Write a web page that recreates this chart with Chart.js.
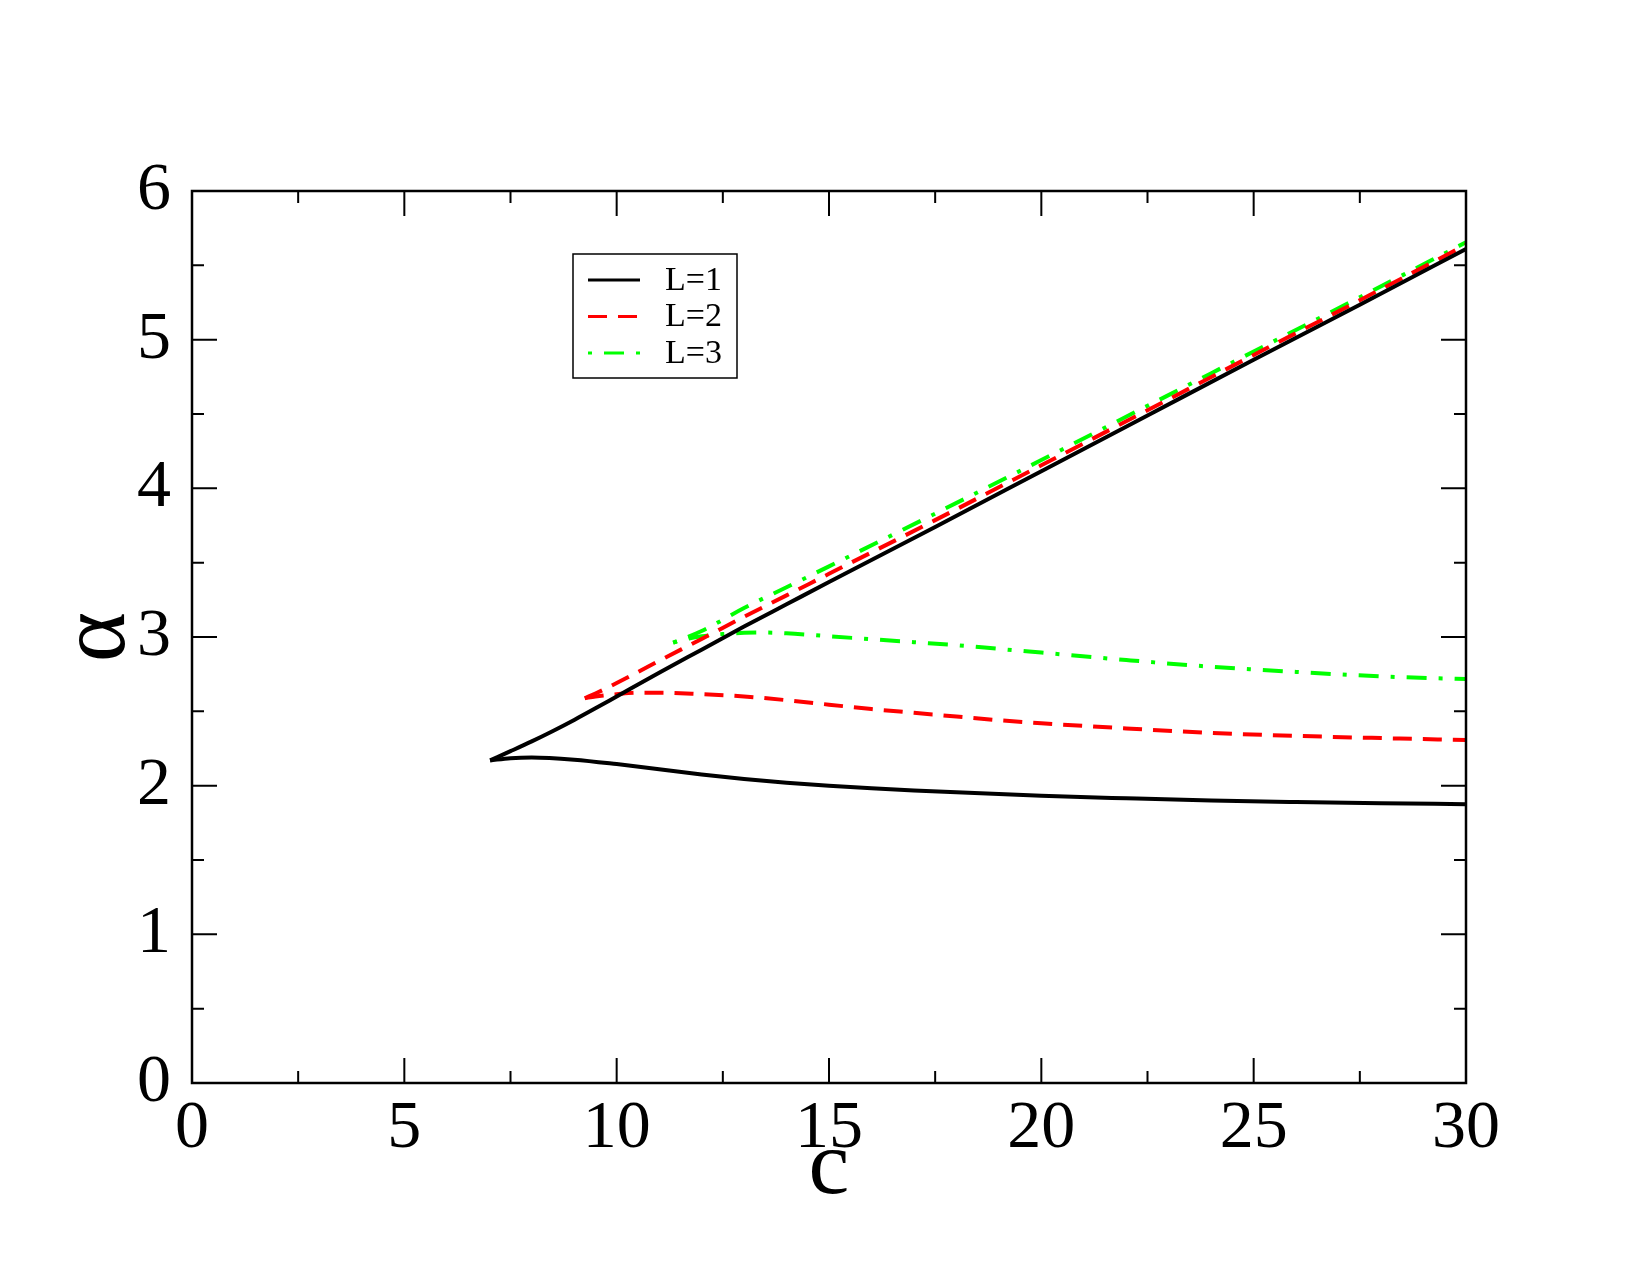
<!DOCTYPE html>
<html>
<head>
<meta charset="utf-8">
<script src="https://cdn.jsdelivr.net/npm/chart.js@4.4.0/dist/chart.umd.min.js"></script>
<style>
  html, body { margin: 0; padding: 0; background: #fff; }
  #wrap { width: 1650px; height: 1275px; position: relative; }
</style>
</head>
<body>
<div id="wrap"><canvas id="myChart"></canvas></div>
<script>
// data: c on x, alpha on y
// each L has an upper and a lower branch meeting at a cusp
const seriesLabels = ['L=1', 'L=2', 'L=3'];

const l1UpperC = [7.02, 7.5, 8, 8.5, 9, 9.5, 10, 11, 12, 13, 14, 15, 17.5, 20, 22.5, 25, 27.5, 30];
const l1UpperA = [2.17, 2.232, 2.298, 2.368, 2.442, 2.52, 2.60, 2.76, 2.915, 3.07, 3.22, 3.37, 3.74, 4.115, 4.49, 4.865, 5.235, 5.61];
const l1LowerC = [7.02, 7.5, 8, 9, 10, 11, 12, 13, 14, 15, 16, 17, 18, 20, 22, 24, 26, 28, 30];
const l1LowerA = [2.17, 2.185, 2.19, 2.175, 2.145, 2.11, 2.075, 2.045, 2.02, 2.0, 1.983, 1.968, 1.955, 1.932, 1.915, 1.90, 1.89, 1.882, 1.875];

const l2UpperC = [9.25, 9.5, 10, 11, 12, 13, 14, 15, 17.5, 20, 22.5, 25, 27.5, 30];
const l2UpperA = [2.588, 2.62, 2.69, 2.84, 2.987, 3.136, 3.28, 3.425, 3.786, 4.155, 4.525, 4.897, 5.265, 5.638];
const l2LowerC = [9.25, 9.5, 10, 10.5, 11, 12, 13, 14, 15, 16, 17, 18, 19, 20, 22, 24, 26, 28, 30];
const l2LowerA = [2.588, 2.60, 2.615, 2.625, 2.625, 2.615, 2.60, 2.575, 2.545, 2.515, 2.49, 2.465, 2.44, 2.42, 2.385, 2.355, 2.335, 2.32, 2.307];

const l3UpperC = [11.33, 12, 13, 14, 15, 17.5, 20, 22.5, 25, 27.5, 30];
const l3UpperA = [2.962, 3.04, 3.195, 3.335, 3.475, 3.83, 4.19, 4.555, 4.92, 5.285, 5.655];
const l3LowerC = [11.33, 11.7, 12, 12.5, 13, 13.5, 14, 15, 16, 17, 18, 19, 20, 22, 24, 26, 28, 30];
const l3LowerA = [2.962, 2.99, 3.005, 3.02, 3.028, 3.03, 3.025, 3.005, 2.985, 2.965, 2.945, 2.92, 2.895, 2.845, 2.80, 2.765, 2.735, 2.717];

const xTicks = [0, 5, 10, 15, 20, 25, 30];
const yTicks = [0, 1, 2, 3, 4, 5, 6];

function toPoints(cs, as) {
  return cs.map((c, i) => ({x: c, y: as[i]}));
}

const serif = '"Liberation Serif", "Times New Roman", serif';

const styles = [
  { color: '#000000', dash: [] },
  { color: '#ff0000', dash: [19, 11] },
  { color: '#00ff00', dash: [4, 12, 20, 12] }
];

const branches = [
  [l1UpperC, l1UpperA, l1LowerC, l1LowerA],
  [l2UpperC, l2UpperA, l2LowerC, l2LowerA],
  [l3UpperC, l3UpperA, l3LowerC, l3LowerA]
];

let datasets = [];
branches.forEach((b, i) => {
  // upper branch carries the legend entry, lower one has no label
  datasets.push({
    label: seriesLabels[i],
    data: toPoints(b[0], b[1]),
    borderColor: styles[i].color,
    borderDash: styles[i].dash
  });
  datasets.push({
    label: '',
    data: toPoints(b[2], b[3]),
    borderColor: styles[i].color,
    borderDash: styles[i].dash
  });
});

const frameTicks = {
  id: 'frameTicks',
  afterDatasetsDraw(chart) {
    const ctx = chart.ctx;
    const a = chart.chartArea;
    const x = chart.scales.x;
    const y = chart.scales.y;
    ctx.save();
    ctx.strokeStyle = '#000';
    ctx.lineWidth = 2;
    ctx.beginPath();
    for (let i = 0; i < xTicks.length; i++) {
      let px = x.getPixelForValue(xTicks[i]);
      ctx.moveTo(px, a.bottom); ctx.lineTo(px, a.bottom - 25);
      ctx.moveTo(px, a.top); ctx.lineTo(px, a.top + 25);
      if (i < xTicks.length - 1) {
        let pm = x.getPixelForValue((xTicks[i] + xTicks[i + 1]) / 2);
        ctx.moveTo(pm, a.bottom); ctx.lineTo(pm, a.bottom - 12);
        ctx.moveTo(pm, a.top); ctx.lineTo(pm, a.top + 12);
      }
    }
    for (let i = 0; i < yTicks.length; i++) {
      let py = y.getPixelForValue(yTicks[i]);
      ctx.moveTo(a.left, py); ctx.lineTo(a.left + 25, py);
      ctx.moveTo(a.right, py); ctx.lineTo(a.right - 25, py);
      if (i < yTicks.length - 1) {
        let pm = y.getPixelForValue((yTicks[i] + yTicks[i + 1]) / 2);
        ctx.moveTo(a.left, pm); ctx.lineTo(a.left + 12, pm);
        ctx.moveTo(a.right, pm); ctx.lineTo(a.right - 12, pm);
      }
    }
    ctx.stroke();

    ctx.lineWidth = 2.5;
    ctx.strokeRect(a.left, a.top, a.right - a.left, a.bottom - a.top);

    // legend box
    ctx.fillStyle = '#fff';
    ctx.fillRect(573, 254, 164, 124);
    ctx.lineWidth = 1.5;
    ctx.strokeRect(573, 254, 164, 124);
    ctx.font = '34px ' + serif;
    ctx.textBaseline = 'middle';
    ctx.textAlign = 'left';
    let row = 0;
    chart.data.datasets.forEach(ds => {
      if (!ds.label) return;
      let ly = 280 + row * 36.5;
      ctx.beginPath();
      ctx.strokeStyle = ds.borderColor;
      ctx.lineWidth = 3;
      ctx.setLineDash(ds.borderDash || []);
      ctx.moveTo(588, ly);
      ctx.lineTo(640, ly);
      ctx.stroke();
      ctx.setLineDash([]);
      ctx.fillStyle = '#000';
      ctx.fillText(ds.label, 665, ly + 1);
      row++;
    });
    ctx.restore();
  }
};

const ctx = document.getElementById('myChart');

new Chart(ctx, {
  type: 'scatter',
  data: { datasets: datasets },
  options: {
    responsive: true,
    maintainAspectRatio: false,
    animation: false,
    showLine: true,
    elements: {
      point: { radius: 0, hoverRadius: 0 },
      line: {
        cubicInterpolationMode: 'monotone',
        fill: false,
        borderWidth: 4,
        borderCapStyle: 'butt',
        borderJoinStyle: 'round'
      }
    },
    layout: {
      padding: { top: 191, right: 184, left: 0, bottom: 0 }
    },
    scales: {
      x: {
        type: 'linear',
        min: 0,
        max: 30,
        afterFit: s => { s.height = 192; },
        grid: { display: false },
        border: { display: false },
        ticks: {
          stepSize: 5,
          autoSkip: false,
          maxRotation: 0,
          padding: 4,
          color: '#000',
          font: { family: serif, size: 68, lineHeight: 1 }
        },
        title: {
          display: true,
          text: 'c',
          color: '#000',
          padding: { top: 60, bottom: 60 },
          font: { family: serif, size: 92, lineHeight: 1 }
        }
      },
      y: {
        type: 'linear',
        min: 0,
        max: 6,
        afterFit: s => { s.width = 192; },
        grid: { display: false },
        border: { display: false },
        ticks: {
          stepSize: 1,
          autoSkip: false,
          padding: 13,
          color: '#000',
          font: { family: serif, size: 68, lineHeight: 1 }
        },
        title: {
          display: true,
          text: 'α',
          color: '#000',
          padding: { top: 51, bottom: 51 },
          font: { family: serif, size: 96, lineHeight: 1 }
        }
      }
    },
    plugins: {
      legend: { display: false },
      title: { display: false },
      tooltip: { enabled: false }
    }
  },
  plugins: [frameTicks]
});
</script>
</body>
</html>
